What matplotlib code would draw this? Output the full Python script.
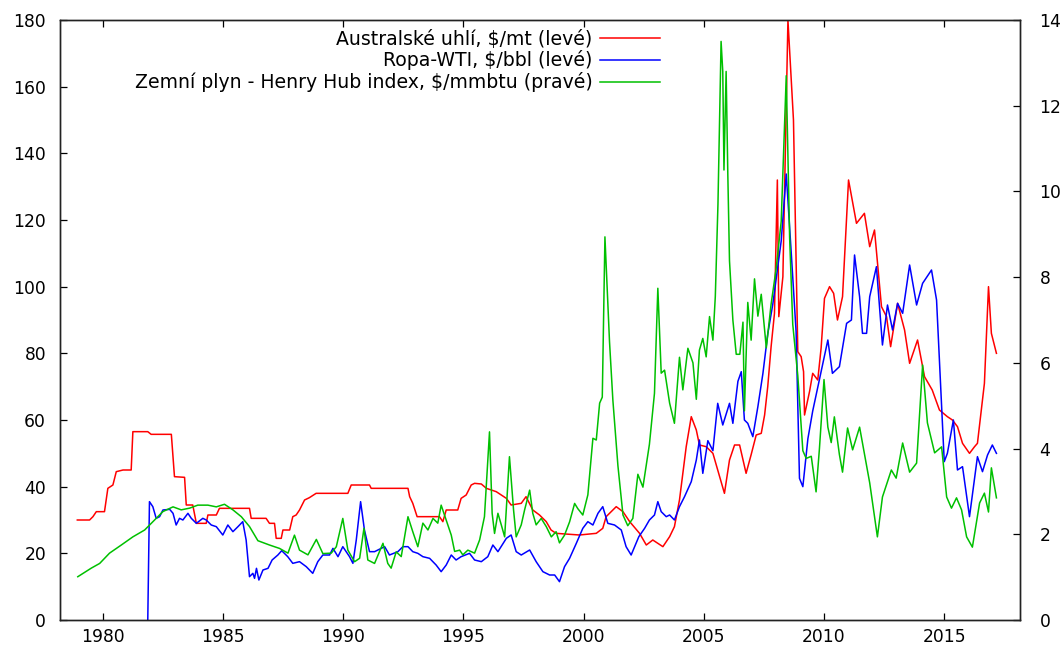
import matplotlib
matplotlib.use("Agg")
import matplotlib.pyplot as plt
from matplotlib.lines import Line2D

# Australian coal, $/mt (left axis)
coal_years = [
    1978.95, 1979.46, 1979.6, 1979.74, 1980.08, 1980.22, 1980.43, 1980.57, 1980.85, 1981.19,
    1981.26, 1981.88, 1982.02, 1982.86, 1982.99, 1983.41, 1983.48, 1983.75, 1983.9, 1984.31,
    1984.38, 1984.73, 1984.86, 1986.11, 1986.18, 1986.8, 1986.94, 1987.15, 1987.22, 1987.43,
    1987.5, 1987.78, 1987.91, 1988.05, 1988.19, 1988.4, 1988.6, 1988.88, 1990.2, 1990.34,
    1991.1, 1991.17, 1992.7, 1992.77, 1992.9, 1993.08, 1994.01, 1994.15, 1994.29, 1994.77,
    1994.91, 1995.12, 1995.33, 1995.47, 1995.75, 1995.96, 1996.37, 1996.79, 1996.99, 1997.41,
    1997.61, 1997.89, 1998.17, 1998.45, 1998.65, 1998.86, 1999.83, 2000.53, 2000.8, 2000.94,
    2001.36, 2001.64, 2001.92, 2002.33, 2002.61, 2002.88, 2003.3, 2003.58, 2003.78, 2003.99,
    2004.27, 2004.48, 2004.69, 2004.82, 2005.1, 2005.38, 2005.66, 2005.86, 2006.07, 2006.28,
    2006.49, 2006.76, 2006.97, 2007.18, 2007.39, 2007.53, 2007.66, 2007.8, 2007.94, 2008.06,
    2008.12, 2008.29, 2008.5, 2008.73, 2008.91, 2009.05, 2009.15, 2009.19, 2009.4, 2009.53,
    2009.74, 2009.88, 2010.02, 2010.23, 2010.4, 2010.56, 2010.77, 2011.02, 2011.35, 2011.68,
    2011.9, 2012.1, 2012.39, 2012.6, 2012.77, 2013.06, 2013.35, 2013.56, 2013.89, 2014.18,
    2014.5, 2014.8, 2015.13, 2015.34, 2015.55, 2015.76, 2016.05, 2016.26, 2016.38, 2016.67,
    2016.84, 2016.96, 2017.17,
]
coal_prices = [
    30, 30, 31, 32.5, 32.5, 39.5, 40.5, 44.5, 45, 45,
    56.5, 56.5, 55.7, 55.7, 43, 42.8, 34.5, 34.5, 29, 29,
    31.5, 31.5, 33.5, 33.5, 30.5, 30.5, 29, 29, 24.5, 24.5,
    27, 27, 31, 31.5, 33, 36, 36.7, 38, 38, 40.5,
    40.5, 39.5, 39.5, 37, 35, 31, 31, 29.5, 33, 33,
    36.5, 37.5, 40.5, 41, 40.8, 39.5, 38.5, 36.5, 34.5, 35,
    37, 33, 31.5, 29.5, 27, 26, 25.5, 26, 27.5, 31,
    34, 32.5, 29.5, 26, 22.5, 24, 22, 25, 28, 36,
    52, 61, 57, 52.5, 52, 50, 43, 38, 48, 52.5,
    52.5, 44, 49.6, 55.5, 56, 61.5, 70, 82, 92, 132,
    91, 103, 180, 150, 80.5, 79, 74.5, 61.5, 68.6, 74,
    72, 81.6, 96.5, 100, 98, 90, 97, 132, 119, 122,
    112, 117, 94, 91, 82, 95, 87, 77, 84, 73,
    69, 63, 61, 60, 58, 53, 50, 52, 53, 71,
    100, 86, 80,
]

# WTI crude, $/bbl (left axis)
wti_years = [
    1981.88, 1981.95, 1982.09, 1982.23, 1982.37, 1982.51, 1982.79, 1982.93, 1983.06, 1983.2,
    1983.34, 1983.55, 1983.69, 1983.9, 1984.17, 1984.31, 1984.52, 1984.73, 1985.0, 1985.21,
    1985.42, 1985.63, 1985.83, 1985.97, 1986.11, 1986.25, 1986.32, 1986.4, 1986.5, 1986.67,
    1986.88, 1987.05, 1987.29, 1987.45, 1987.7, 1987.91, 1988.19, 1988.47, 1988.74, 1988.95,
    1989.16, 1989.44, 1989.58, 1989.79, 1989.99, 1990.27, 1990.41, 1990.55, 1990.73, 1990.89,
    1991.1, 1991.31, 1991.73, 1991.93, 1992.28, 1992.49, 1992.7, 1992.9, 1993.11, 1993.32,
    1993.6, 1993.87, 1994.08, 1994.29, 1994.5, 1994.7, 1994.91, 1995.26, 1995.47, 1995.75,
    1996.02, 1996.23, 1996.44, 1996.79, 1996.99, 1997.2, 1997.41, 1997.76, 1998.03, 1998.31,
    1998.59, 1998.8, 1999.0, 1999.21, 1999.42, 1999.7, 1999.97, 2000.18, 2000.39, 2000.6,
    2000.8, 2001.01, 2001.29, 2001.57, 2001.77, 2001.98, 2002.3, 2002.54, 2002.74, 2002.95,
    2003.09, 2003.23, 2003.44, 2003.58, 2003.78, 2003.99, 2004.2, 2004.48, 2004.69, 2004.82,
    2004.96, 2005.17, 2005.38, 2005.58, 2005.79, 2006.07, 2006.21, 2006.42, 2006.56, 2006.69,
    2006.83, 2007.04, 2007.25, 2007.46, 2007.66, 2007.87, 2008.22, 2008.43, 2008.63, 2008.84,
    2008.98, 2009.12, 2009.33, 2009.53, 2009.74, 2009.95, 2010.16, 2010.35, 2010.64, 2010.94,
    2011.14, 2011.27, 2011.48, 2011.6, 2011.77, 2011.9, 2012.18, 2012.43, 2012.64, 2012.85,
    2013.06, 2013.27, 2013.56, 2013.85, 2014.1, 2014.47, 2014.68, 2015.0, 2015.13, 2015.38,
    2015.55, 2015.76, 2016.05, 2016.38, 2016.59, 2016.8, 2017.0, 2017.17,
]
wti_prices = [
    0, 35.5, 34, 30.5, 31, 33, 33.2, 32, 28.5, 30.5,
    30, 32, 30.5, 29, 30.5, 30, 28.5, 28, 25.5, 28.5,
    26.5, 28, 29.5, 24, 13, 14, 12.5, 15.5, 12, 15,
    15.5, 18, 19.5, 20.8, 19, 17, 17.5, 16, 14, 17.5,
    19.5, 19.5, 21.5, 19, 22, 19, 17, 24, 35.5, 27,
    20.5, 20.5, 22, 19.5, 20.5, 22, 22, 20.5, 20, 19,
    18.5, 16.5, 14.5, 16.5, 19.5, 18, 19, 20, 18, 17.5,
    19, 22.5, 20.5, 24.5, 25.5, 20.5, 19.5, 21, 17.5, 14.5,
    13.5, 13.5, 11.5, 16, 18.5, 23, 27.5, 29.5, 28.5, 32,
    34, 29, 28.5, 27, 22, 19.5, 25, 27.5, 30, 31.5,
    35.5, 32.5, 31, 31.5, 30, 34, 37, 41.5, 48, 54,
    44, 53.8, 50.8, 65, 58.5, 65, 59, 71.6, 74.5, 60,
    59, 55, 64, 74, 85.8, 94.7, 113.7, 133.8, 111, 86.4,
    42.5, 40, 54.4, 62.7, 69.8, 77, 84, 74, 76, 89,
    90, 109.5, 97, 86, 86, 97, 106, 82.5, 94.5, 87,
    95, 92, 106.5, 94.5, 101, 105, 96, 47.5, 50, 60,
    45, 46, 31, 49, 44.5, 49.5, 52.5, 50,
]

# Henry Hub natural gas, $/mmbtu (right axis)
gas_years = [
    1978.97, 1979.53, 1979.88, 1980.29, 1980.78, 1981.26, 1981.75, 1982.16, 1982.51, 1982.93,
    1983.27, 1983.62, 1983.96, 1984.38, 1984.73, 1985.07, 1985.42, 1985.77, 1986.11, 1986.46,
    1986.94, 1987.36, 1987.71, 1987.98, 1988.19, 1988.54, 1988.89, 1989.16, 1989.51, 1989.72,
    1989.99, 1990.2, 1990.48, 1990.69, 1990.87, 1991.03, 1991.31, 1991.66, 1991.86, 1992.0,
    1992.21, 1992.42, 1992.7, 1992.9, 1993.11, 1993.32, 1993.53, 1993.74, 1993.94, 1994.08,
    1994.29, 1994.5, 1994.64, 1994.85, 1994.98, 1995.19, 1995.47, 1995.68, 1995.88, 1996.09,
    1996.2, 1996.3, 1996.44, 1996.58, 1996.72, 1996.92, 1997.09, 1997.2, 1997.41, 1997.55,
    1997.76, 1997.89, 1998.03, 1998.24, 1998.45, 1998.66, 1998.86, 1999.0, 1999.21, 1999.42,
    1999.63, 1999.76, 1999.97, 2000.18, 2000.39, 2000.53, 2000.67, 2000.78, 2000.89, 2001.08,
    2001.22, 2001.43, 2001.64, 2001.84, 2002.05, 2002.26, 2002.47, 2002.74, 2002.95, 2003.09,
    2003.23, 2003.37, 2003.58, 2003.78, 2003.99, 2004.13, 2004.34, 2004.55, 2004.69, 2004.82,
    2004.96, 2005.1, 2005.24, 2005.38, 2005.48, 2005.59, 2005.72, 2005.79, 2005.84, 2005.93,
    2006.0, 2006.07, 2006.21, 2006.35, 2006.5, 2006.63, 2006.69, 2006.83, 2006.97, 2007.11,
    2007.25, 2007.39, 2007.6, 2007.8, 2008.01, 2008.22, 2008.43, 2008.57, 2008.7, 2008.91,
    2009.12, 2009.26, 2009.47, 2009.67, 2009.81, 2010.0, 2010.16, 2010.3, 2010.43, 2010.64,
    2010.77, 2010.98, 2011.19, 2011.48, 2011.9, 2012.22, 2012.43, 2012.8, 2013.0, 2013.27,
    2013.56, 2013.85, 2014.1, 2014.3, 2014.6, 2014.89, 2015.1, 2015.3, 2015.51, 2015.72,
    2015.93, 2016.17, 2016.47, 2016.67, 2016.84, 2016.96, 2017.17,
]
gas_prices = [
    1.01, 1.21, 1.32, 1.56, 1.75, 1.94, 2.1, 2.33, 2.53, 2.64,
    2.57, 2.61, 2.68, 2.68, 2.64, 2.7, 2.57, 2.41, 2.18, 1.85,
    1.75, 1.67, 1.56, 1.98, 1.63, 1.52, 1.88, 1.55, 1.56, 1.71,
    2.37, 1.63, 1.36, 1.44, 2.14, 1.4, 1.32, 1.79, 1.32, 1.21,
    1.59, 1.48, 2.41, 2.06, 1.71, 2.26, 2.1, 2.37, 2.26, 2.68,
    2.33, 1.98, 1.6, 1.63, 1.52, 1.63, 1.56, 1.87, 2.41, 4.39,
    2.49, 2.02, 2.49, 2.22, 1.94, 3.81, 2.57, 1.94, 2.22, 2.57,
    3.03, 2.49, 2.22, 2.37, 2.18, 1.94, 2.06, 1.8, 1.98, 2.29,
    2.72, 2.6, 2.45, 2.92, 4.24, 4.2, 5.06, 5.2, 8.94, 6.5,
    5.13, 3.6, 2.45, 2.2, 2.37, 3.4, 3.1, 4.1, 5.29, 7.74,
    5.76, 5.83, 5.06, 4.59, 6.13, 5.37, 6.34, 6.0, 5.15, 6.3,
    6.57, 6.14, 7.08, 6.53, 7.55, 9.7, 13.5, 12.8, 10.5, 12.8,
    10.4, 8.38, 7.0, 6.2, 6.2, 6.95, 4.88, 7.41, 6.53, 7.96,
    7.09, 7.6, 6.35, 7.37, 8.2, 9.3, 12.7, 8.93, 6.9, 5.7,
    3.95, 3.77, 3.82, 2.99, 4.0, 5.61, 4.5, 4.14, 4.74, 3.86,
    3.45, 4.48, 3.97, 4.5, 3.2, 1.94, 2.87, 3.5, 3.31, 4.13,
    3.45, 3.66, 5.95, 4.6, 3.9, 4.04, 2.87, 2.61, 2.85, 2.57,
    1.94, 1.7, 2.73, 2.96, 2.52, 3.55, 2.85,
]

labels = [
    "Australské uhlí, $/mt (levé)",
    "Ropa-WTI, $/bbl (levé)",
    "Zemní plyn - Henry Hub index, $/mmbtu (pravé)",
]
year_ticks = [1980, 1985, 1990, 1995, 2000, 2005, 2010, 2015]
left_ticks = list(range(0, 181, 20))
right_ticks = list(range(0, 15, 2))

RED = "#ff0000"
BLUE = "#0000ff"
GREEN = "#00c000"
TICK_FS = 12.3
LEGEND_FS = 13.6

plt.rcParams["font.family"] = ["DejaVu Sans"]

fig = plt.figure(figsize=(10.64, 6.53), dpi=100)
ax = fig.add_axes([60 / 1064, 1 - 620 / 653, 960 / 1064, 600 / 653])
ax2 = ax.twinx()

ax.plot(coal_years, coal_prices, color=RED, lw=1.1)
ax.plot(wti_years, wti_prices, color=BLUE, lw=1.1)
ax2.plot(gas_years, gas_prices, color=GREEN, lw=1.1)

ax.set_xlim(1978.23, 2018.15)
ax.set_ylim(0, 180)
ax2.set_ylim(0, 14)

ax.set_xticks(year_ticks)
ax.set_yticks(left_ticks)
ax2.set_yticks(right_ticks)

ax.tick_params(axis="x", direction="in", length=5, width=0.9, top=True,
               labelsize=TICK_FS, pad=6)
ax.tick_params(axis="y", direction="in", length=5, width=0.9, right=False,
               labelsize=TICK_FS, pad=10)
ax2.tick_params(axis="y", direction="in", length=5, width=0.9,
                labelsize=TICK_FS, pad=14)

for a in (ax, ax2):
    for sp in a.spines.values():
        sp.set_linewidth(1.0)
        sp.set_color("#222222")

handles = [Line2D([], [], color=c, lw=1.1) for c in (RED, BLUE, GREEN)]
ax2.legend(handles, labels, loc="upper right", bbox_to_anchor=(0.625, 0.984),
           frameon=False, markerfirst=False, fontsize=LEGEND_FS,
           handlelength=3.15, handletextpad=0.42, labelspacing=0.1,
           borderaxespad=0.0, borderpad=0.0)

fig.savefig("out.png", dpi=100)
